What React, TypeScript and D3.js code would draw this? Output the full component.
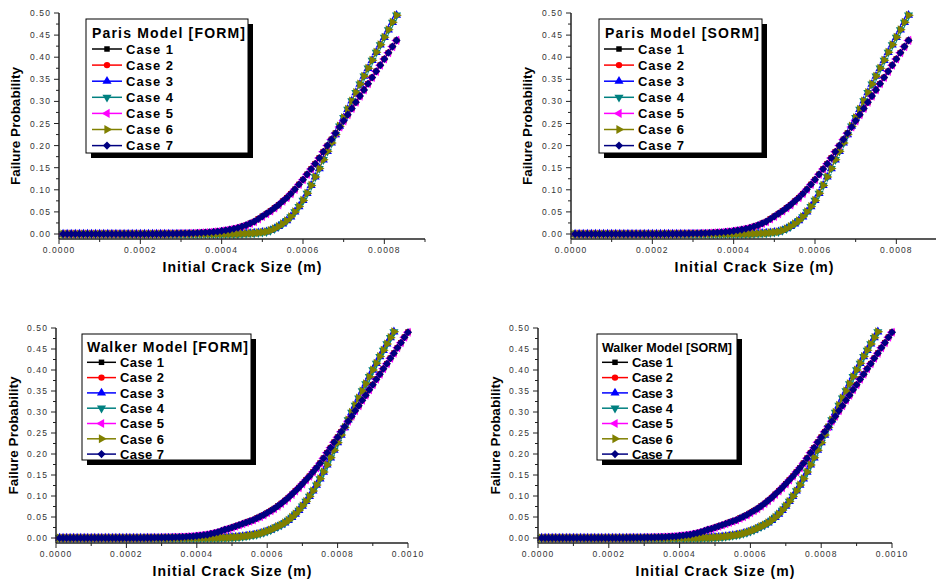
import React from "react";
import * as d3 from "d3";

// ---------- data ----------
const STEP = 1e-5; // sampling step of the initial crack size (m)

// Paris model: curve shared by cases 1, 2, 5, 7 (early rise)
const parisEarly = [
  0, 0, 0, 0, 0, 0, 0, 0, 0, 0,
  0, 0, 0, 0, 0, 0, 0, 0, 0, 0,
  0.0001, 0.0001, 0.0002, 0.0002, 0.0003, 0.0004, 0.0005, 0.0006, 0.0008, 0.001,
  0.0012, 0.0015, 0.0018, 0.0022, 0.0027, 0.0033, 0.004, 0.0048, 0.0058, 0.007,
  0.0084, 0.01, 0.012, 0.014, 0.017, 0.02, 0.024, 0.028, 0.034, 0.04,
  0.046, 0.052, 0.059, 0.066, 0.074, 0.082, 0.091, 0.101, 0.112, 0.123,
  0.135, 0.147, 0.159, 0.172, 0.186, 0.2, 0.214, 0.228, 0.242, 0.256,
  0.27, 0.284, 0.298, 0.312, 0.326, 0.34, 0.354, 0.368, 0.382, 0.396,
  0.41, 0.424, 0.438,
];
// Paris model: curve shared by cases 3, 4, 6 (late, steeper rise)
const parisLate = [
  0, 0, 0, 0, 0, 0, 0, 0, 0, 0,
  0, 0, 0, 0, 0, 0, 0, 0, 0, 0,
  0, 0, 0, 0, 0, 0, 0, 0, 0, 0,
  0, 0, 0, 0, 0, 0, 0, 0, 0, 0,
  0, 0, 0, 0, 0.0005, 0.001, 0.0015, 0.002, 0.003, 0.004,
  0.005, 0.008, 0.012, 0.017, 0.023, 0.03, 0.039, 0.05, 0.062, 0.076,
  0.092, 0.11, 0.129, 0.148, 0.168, 0.187, 0.206, 0.225, 0.244, 0.263,
  0.282, 0.301, 0.32, 0.339, 0.357, 0.375, 0.393, 0.411, 0.428, 0.445,
  0.462, 0.479, 0.495,
];
// Walker model: cases 1, 2, 5, 7
const walkerEarly = [
  0, 0, 0, 0, 0, 0, 0, 0, 0, 0,
  0, 0, 0, 0, 0, 0, 0, 0, 0, 0,
  0, 0, 0, 0, 0.0002, 0.0003, 0.0004, 0.0005, 0.0006, 0.0008,
  0.001, 0.0012, 0.0014, 0.0017, 0.002, 0.0025, 0.003, 0.0035, 0.004, 0.005,
  0.006, 0.007, 0.008, 0.01, 0.012, 0.014, 0.017, 0.02, 0.022, 0.025,
  0.028, 0.031, 0.034, 0.037, 0.04, 0.043, 0.047, 0.051, 0.055, 0.06,
  0.065, 0.07, 0.076, 0.082, 0.089, 0.096, 0.104, 0.112, 0.12, 0.129,
  0.138, 0.147, 0.157, 0.167, 0.178, 0.19, 0.203, 0.215, 0.228, 0.24,
  0.253, 0.265, 0.278, 0.29, 0.303, 0.315, 0.328, 0.34, 0.353, 0.365,
  0.378, 0.39, 0.403, 0.415, 0.428, 0.44, 0.453, 0.465, 0.478, 0.49,
];
// Walker model: cases 3, 4, 6
const walkerLate = [
  0, 0, 0, 0, 0, 0, 0, 0, 0, 0,
  0, 0, 0, 0, 0, 0, 0, 0, 0, 0,
  0, 0, 0, 0, 0, 0, 0, 0, 0, 0,
  0, 0, 0, 0, 0, 0, 0, 0, 0, 0,
  0, 0, 0, 0, 0, 0.0003, 0.0005, 0.0008, 0.001, 0.0015,
  0.002, 0.0027, 0.0035, 0.0045, 0.0057, 0.007, 0.0085, 0.0105, 0.013, 0.016,
  0.019, 0.023, 0.027, 0.031, 0.036, 0.042, 0.049, 0.057, 0.066, 0.076,
  0.087, 0.099, 0.112, 0.126, 0.141, 0.157, 0.174, 0.191, 0.209, 0.227,
  0.245, 0.263, 0.281, 0.299, 0.316, 0.333, 0.35, 0.367, 0.384, 0.4,
  0.416, 0.432, 0.447, 0.462, 0.477, 0.491,
];

const caseNames = ["Case 1", "Case 2", "Case 3", "Case 4", "Case 5", "Case 6", "Case 7"];
const caseColors = ["#000000", "#FF0000", "#0000FF", "#008080", "#FF00FF", "#808000", "#000080"];
const caseMarkers = ["square", "circle", "triUp", "triDown", "triLeft", "triRight", "diamond"];
const caseGroup = ["early", "early", "late", "late", "early", "late", "early"];

const yTicks = [0, 0.05, 0.1, 0.15, 0.2, 0.25, 0.3, 0.35, 0.4, 0.45, 0.5];
const yMinorTicks = [0.025, 0.075, 0.125, 0.175, 0.225, 0.275, 0.325, 0.375, 0.425, 0.475];
const parisXTicks = [0, 0.0002, 0.0004, 0.0006, 0.0008];
const parisXMinor = [0.0001, 0.0003, 0.0005, 0.0007, 0.0009];
const walkerXTicks = [0, 0.0002, 0.0004, 0.0006, 0.0008, 0.001];
const walkerXMinor = [0.0001, 0.0003, 0.0005, 0.0007, 0.0009];

const xTitle = "Initial Crack Size (m)";
const yTitle = "Failure Probability";

// ---------- layout ----------
const FONT = "'Liberation Sans', Arial, Helvetica, sans-serif";

type Legend = {
  bx: number; by: number; bw: number; bh: number;
  titleX: number; titleY: number; titleLen: number | null; titleSize: number;
  row0: number; rowStep: number; lx1: number; lx2: number; tx: number; tLen: number;
};
type PanelCfg = {
  title: string; left: number; right: number; xMax: number; y0: number; top: number;
  xTicks: number[]; xMinor: number[]; early: number[]; late: number[];
  yTitleX: number; legend: Legend;
};

const panels: PanelCfg[] = [
  {
    title: "Paris Model [FORM]", left: 59, right: 425, xMax: 0.0009, y0: 234, top: 13,
    xTicks: parisXTicks, xMinor: parisXMinor, early: parisEarly, late: parisLate, yTitleX: 15,
    legend: { bx: 86, by: 19, bw: 162, bh: 134, titleX: 92, titleY: 37.5, titleLen: 153, titleSize: 14,
      row0: 49, rowStep: 16.1, lx1: 92, lx2: 122, tx: 126, tLen: 47 },
  },
  {
    title: "Paris Model [SORM]", left: 571, right: 937, xMax: 0.0009, y0: 234, top: 13,
    xTicks: parisXTicks, xMinor: parisXMinor, early: parisEarly, late: parisLate, yTitleX: 527,
    legend: { bx: 599, by: 19, bw: 163, bh: 134, titleX: 605, titleY: 37.5, titleLen: 154, titleSize: 14,
      row0: 49, rowStep: 16.1, lx1: 604, lx2: 634, tx: 638, tLen: 46 },
  },
  {
    title: "Walker Model [FORM]", left: 56, right: 408, xMax: 0.001, y0: 538, top: 328,
    xTicks: walkerXTicks, xMinor: walkerXMinor, early: walkerEarly, late: walkerLate, yTitleX: 13,
    legend: { bx: 82, by: 334, bw: 169, bh: 126, titleX: 87, titleY: 351.5, titleLen: 161, titleSize: 14,
      row0: 362.3, rowStep: 15.3, lx1: 87, lx2: 116, tx: 120, tLen: 44 },
  },
  {
    title: "Walker Model [SORM]", left: 538, right: 892, xMax: 0.001, y0: 538, top: 328,
    xTicks: walkerXTicks, xMinor: walkerXMinor, early: walkerEarly, late: walkerLate, yTitleX: 495,
    legend: { bx: 597, by: 334, bw: 140, bh: 126, titleX: 602, titleY: 351.5, titleLen: 130, titleSize: 12.5,
      row0: 362.3, rowStep: 15.3, lx1: 602, lx2: 628, tx: 632, tLen: 41 },
  },
];

const symbolDiamond2: any = (d3 as any).symbolDiamond2 || d3.symbolDiamond;
const markerDefs: Record<string, { d: string; rot: number }> = {
  square: { d: d3.symbol().type(d3.symbolSquare).size(30)() as string, rot: 0 },
  circle: { d: d3.symbol().type(d3.symbolCircle).size(32)() as string, rot: 0 },
  triUp: { d: d3.symbol().type(d3.symbolTriangle).size(36)() as string, rot: 0 },
  triDown: { d: d3.symbol().type(d3.symbolTriangle).size(36)() as string, rot: 180 },
  triLeft: { d: d3.symbol().type(d3.symbolTriangle).size(36)() as string, rot: -90 },
  triRight: { d: d3.symbol().type(d3.symbolTriangle).size(36)() as string, rot: 90 },
  diamond: { d: d3.symbol().type(symbolDiamond2).size(42)() as string, rot: 0 },
};

function Marker({ kind, x, y, color }: { kind: string; x: number; y: number; color: string }) {
  const m = markerDefs[kind];
  return (
    <path d={m.d} fill={color} transform={`translate(${x},${y})${m.rot ? ` rotate(${m.rot})` : ""}`} />
  );
}

function Panel({ cfg }: { cfg: PanelCfg }) {
  const x = d3.scaleLinear().domain([0, cfg.xMax]).range([cfg.left, cfg.right]);
  const y = d3.scaleLinear().domain([0, 0.5]).range([cfg.y0, cfg.top]);
  const axisY = cfg.y0 + 5;
  const axisColor = "#222";
  const line = d3
    .line<number>()
    .x((_, i) => x((i + 1) * STEP))
    .y((v) => y(v));
  const L = cfg.legend;

  return (
    <g>
      {/* series */}
      {caseNames.map((name, ci) => {
        const vals = caseGroup[ci] === "early" ? cfg.early : cfg.late;
        return (
          <g key={name}>
            <path d={line(vals) as string} fill="none" stroke={caseColors[ci]} strokeWidth={1} />
            {vals.map((v, i) => (
              <Marker key={i} kind={caseMarkers[ci]} x={x((i + 1) * STEP)} y={y(v)} color={caseColors[ci]} />
            ))}
          </g>
        );
      })}

      {/* axes */}
      <line x1={cfg.left} x2={cfg.left} y1={cfg.top} y2={axisY} stroke={axisColor} strokeWidth={1.5} />
      <line x1={cfg.left} x2={cfg.right} y1={axisY} y2={axisY} stroke={axisColor} strokeWidth={1.5} />
      {yTicks.map((t) => (
        <g key={"yt" + t}>
          <line x1={cfg.left - 5} x2={cfg.left} y1={y(t)} y2={y(t)} stroke={axisColor} strokeWidth={1} />
          <text x={cfg.left - 8} y={y(t) + 3} textAnchor="end" fontSize={8.5} letterSpacing={1.1}
            fill="#333" fontFamily={FONT}>{t.toFixed(2)}</text>
        </g>
      ))}
      {yMinorTicks.map((t) => (
        <line key={"ym" + t} x1={cfg.left - 3} x2={cfg.left} y1={y(t)} y2={y(t)} stroke={axisColor} strokeWidth={1} />
      ))}
      {cfg.xTicks.map((t) => (
        <g key={"xt" + t}>
          <line x1={x(t)} x2={x(t)} y1={axisY} y2={axisY + 5} stroke={axisColor} strokeWidth={1} />
          <text x={x(t)} y={axisY + 14} textAnchor="middle" fontSize={8.5} letterSpacing={1.1}
            fill="#333" fontFamily={FONT}>{t.toFixed(4)}</text>
        </g>
      ))}
      {cfg.xMinor.map((t) => (
        <line key={"xm" + t} x1={x(t)} x2={x(t)} y1={axisY} y2={axisY + 3} stroke={axisColor} strokeWidth={1} />
      ))}

      {/* axis titles */}
      <text x={(cfg.left + cfg.right) / 2} y={axisY + 33} textAnchor="middle" fontSize={14} fontWeight="bold"
        fontFamily={FONT} textLength={159} lengthAdjust="spacing">{xTitle}</text>
      <text transform={`translate(${cfg.yTitleX + 5},${(cfg.top + axisY) / 2}) rotate(-90)`} textAnchor="middle"
        fontSize={13.5} fontWeight="bold" fontFamily={FONT}>{yTitle}</text>

      {/* legend */}
      <rect x={L.bx + 5} y={L.by + 5} width={L.bw} height={L.bh} fill="#000" />
      <rect x={L.bx} y={L.by} width={L.bw} height={L.bh} fill="#fff" stroke="#000" strokeWidth={1} />
      <text x={L.titleX} y={L.titleY} fontSize={L.titleSize} fontWeight="bold" fontFamily={FONT}
        textLength={L.titleLen ?? undefined} lengthAdjust="spacing">{cfg.title}</text>
      {caseNames.map((name, ci) => {
        const ry = L.row0 + ci * L.rowStep;
        return (
          <g key={"lg" + name}>
            <line x1={L.lx1} x2={L.lx2} y1={ry} y2={ry} stroke={caseColors[ci]} strokeWidth={1.5} />
            <Marker kind={caseMarkers[ci]} x={(L.lx1 + L.lx2) / 2} y={ry} color={caseColors[ci]} />
            <text x={L.tx} y={ry + 4.8} fontSize={13} fontWeight="bold" fontFamily={FONT}
              textLength={L.tLen} lengthAdjust="spacing">{name}</text>
          </g>
        );
      })}
    </g>
  );
}

export default function App() {
  return (
    <svg width={936} height={579} viewBox="0 0 936 579"
      style={{ position: "absolute", left: 0, top: 0, background: "#fff" }}>
      <rect x={0} y={0} width={936} height={579} fill="#fff" />
      {panels.map((p) => (
        <Panel key={p.title} cfg={p} />
      ))}
    </svg>
  );
}
